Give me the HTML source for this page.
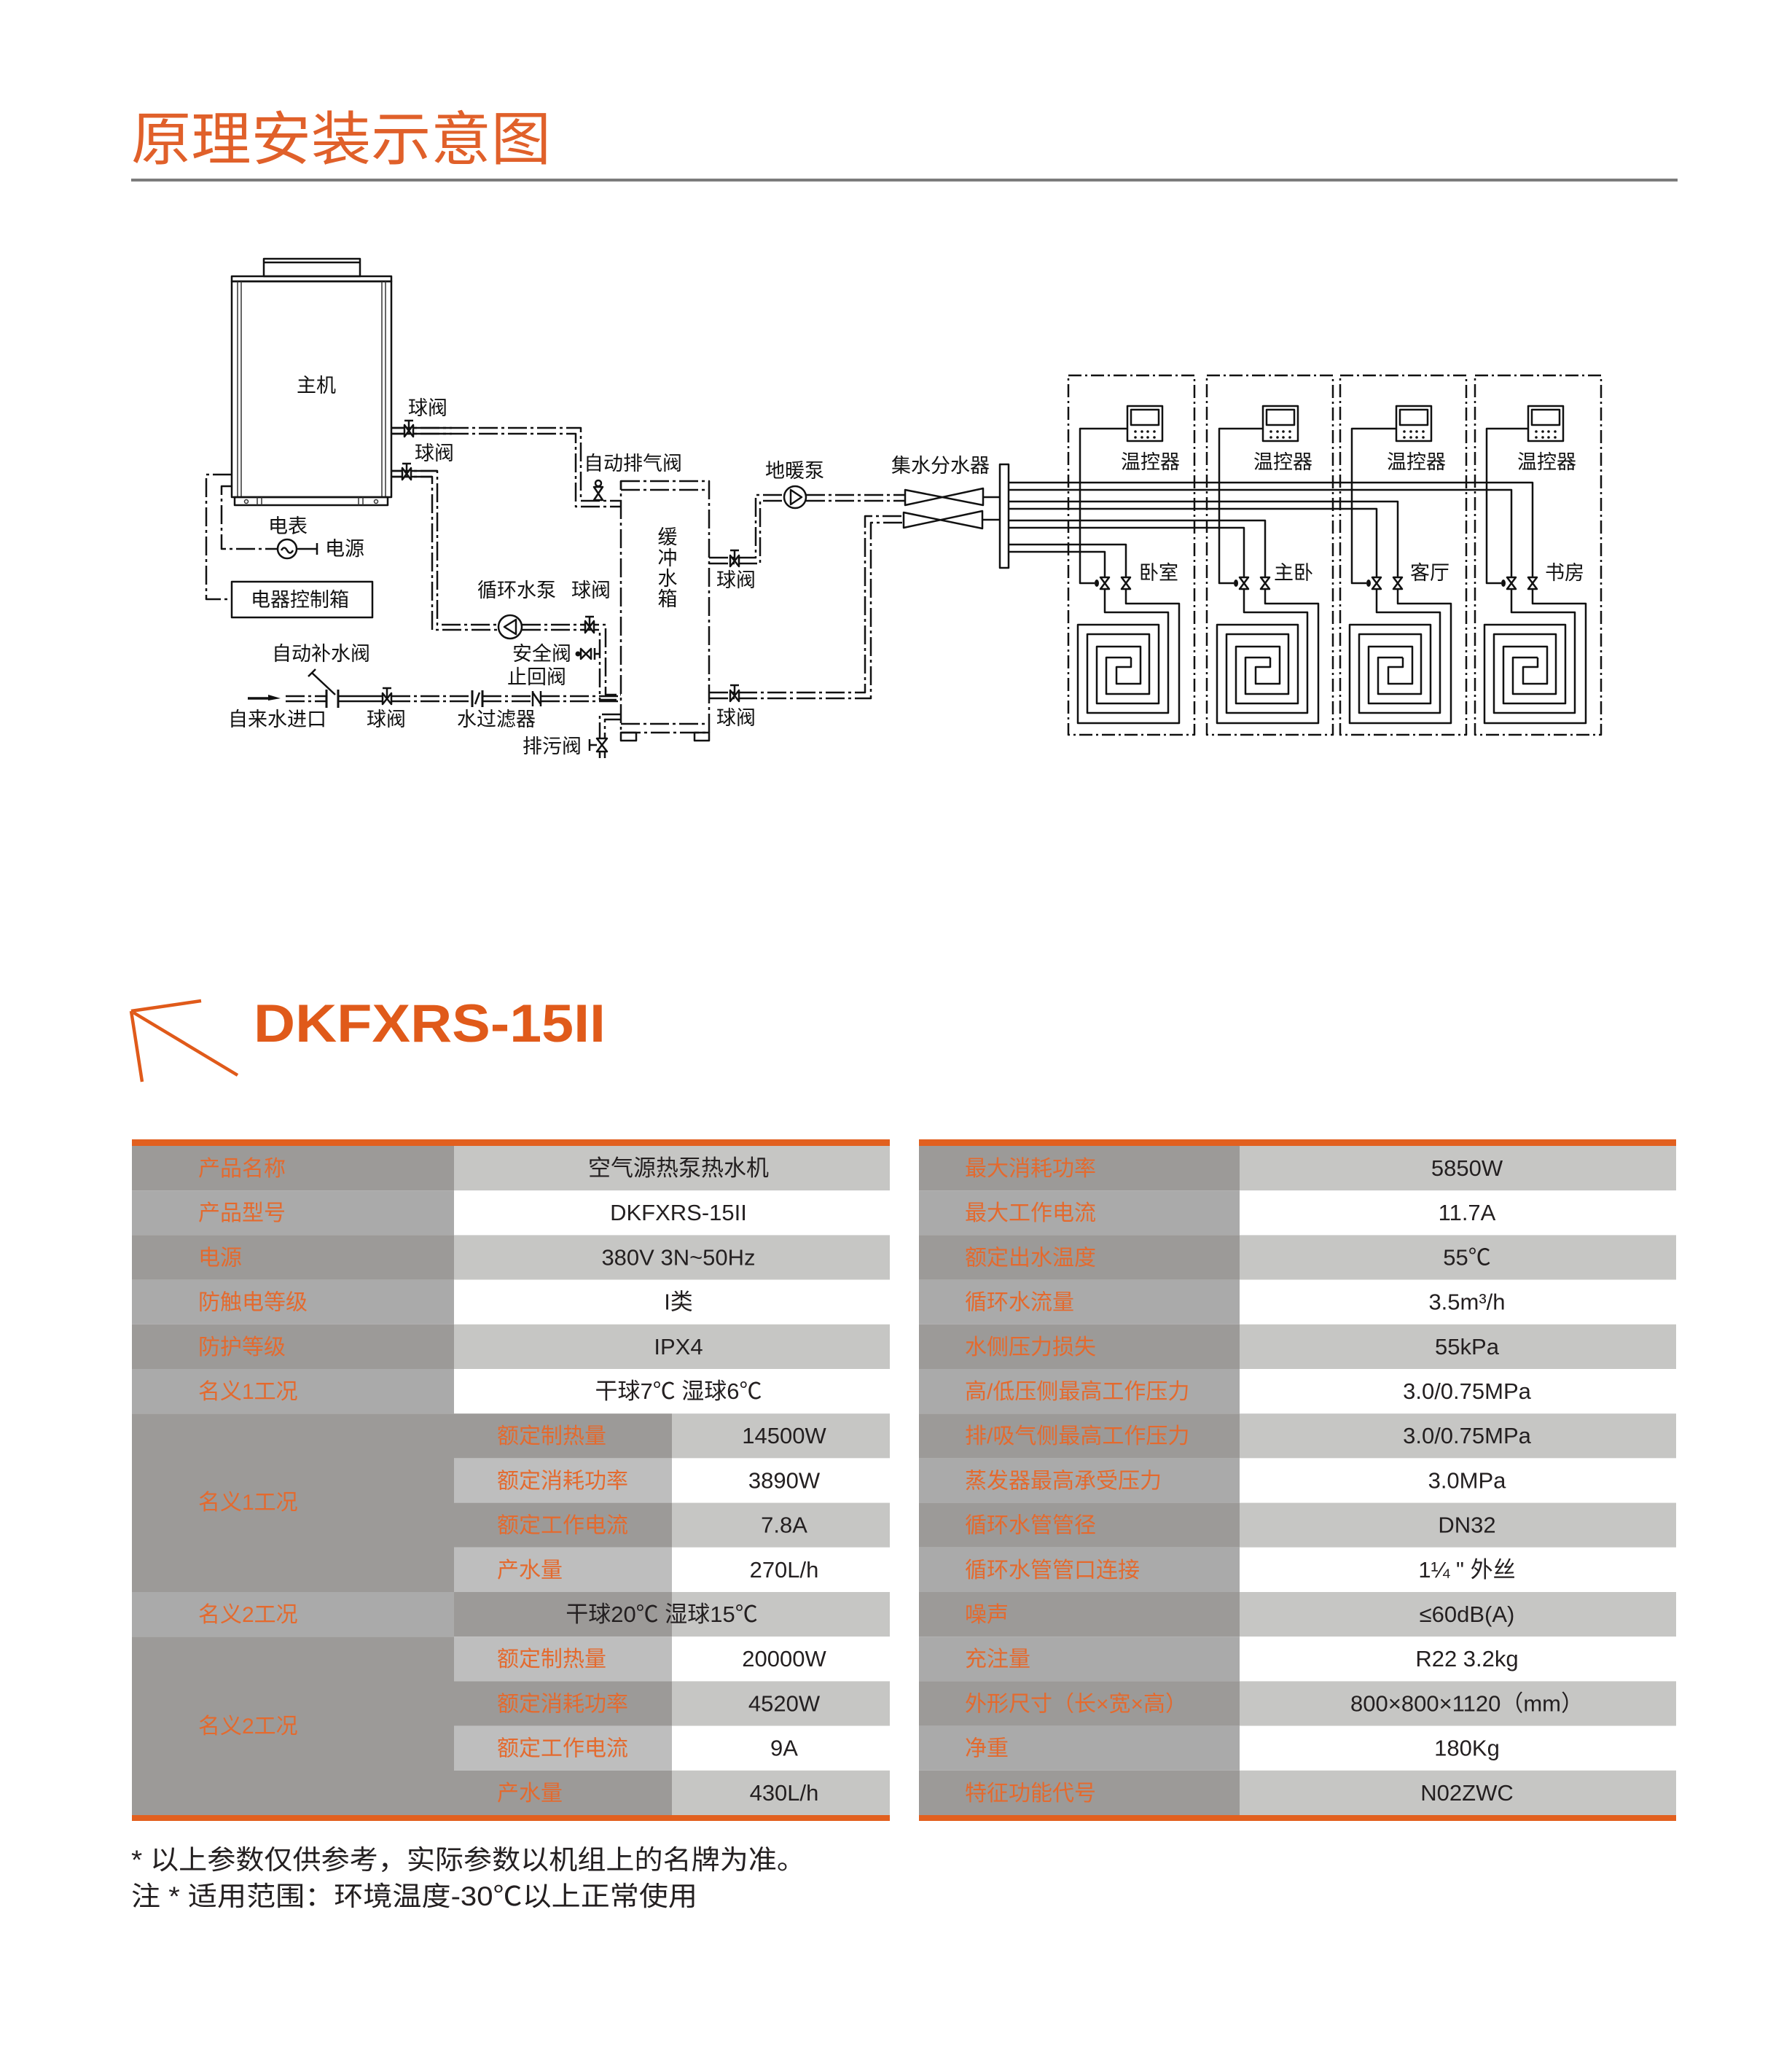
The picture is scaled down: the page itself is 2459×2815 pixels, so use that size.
<!DOCTYPE html>
<html><head><meta charset="utf-8"><title>原理安装示意图</title>
<style>
html,body{margin:0;padding:0;background:#fff;}
svg{display:block;}
</style></head>
<body>
<svg width="2459" height="2815" viewBox="0 0 2459 2815" xmlns="http://www.w3.org/2000/svg">
<style>
.s{stroke:#111;stroke-width:2.5;fill:none;stroke-linejoin:round}
.f{stroke:#111;stroke-width:2.5;fill:#fff;stroke-linejoin:round}
.d{stroke-dasharray:26 5 4 5}
.rd{stroke-dasharray:18 5 3 5}
.t{font-family:"Liberation Sans","Noto Sans CJK SC",sans-serif;font-size:27px;fill:#111}
.lab{font-family:"Liberation Sans","Noto Sans CJK SC",sans-serif;font-size:30px;fill:#e46a2e}
.val{font-family:"Liberation Sans","Noto Sans CJK SC",sans-serif;font-size:31px;fill:#231f20;text-anchor:middle}
</style>
<rect width="2459" height="2815" fill="#fff"/>

<!-- Title -->
<text x="180" y="219" font-family="Liberation Sans, Noto Sans CJK SC, sans-serif" font-size="80" fill="#e0602a" textLength="576" lengthAdjust="spacingAndGlyphs">原理安装示意图</text>
<rect x="180" y="245" width="2122" height="4" fill="#7c7c7c"/>

<!-- ============ DIAGRAM ============ -->
<!-- Main unit -->
<rect class="s" x="362" y="355" width="132" height="24"/>
<line class="s" x1="362" y1="360" x2="494" y2="360" stroke-width="1.5"/>
<rect class="s" x="318" y="379" width="219" height="7"/>
<rect class="s" x="318" y="386" width="219" height="296"/>
<g stroke="#333" stroke-width="1.5">
<line x1="326" y1="386" x2="326" y2="682"/><line x1="331" y1="386" x2="331" y2="682"/>
<line x1="524" y1="386" x2="524" y2="682"/><line x1="529" y1="386" x2="529" y2="682"/>
</g>
<rect class="s" x="322" y="682" width="210" height="11"/>
<g stroke="#333" stroke-width="1.5" fill="none">
<line x1="353" y1="682" x2="353" y2="693"/><line x1="359" y1="682" x2="359" y2="693"/>
<line x1="492" y1="682" x2="492" y2="693"/><line x1="498" y1="682" x2="498" y2="693"/>
<circle cx="338" cy="688" r="2.5"/><circle cx="516" cy="688" r="2.5"/>
</g>
<text class="t" x="407" y="538" font-size="26">主机</text>

<!-- Upper supply pipe from unit to tank -->
<path class="s d" d="M537,587 H797 V687 H853"/>
<path class="s d" d="M537,595 H790 V695 H853"/>
<path class="s" d="M537,587 H620 M537,595 H620"/>
<path class="f" d="M555,583 V599 L567,583 V599 Z"/>
<path class="s" d="M561,591 V577 M555,577 H567"/>
<text class="t" x="560" y="569">球阀</text>
<path class="f" d="M815,668 H827 L815,686 H827 Z"/>
<circle class="f" cx="821" cy="663" r="4"/>
<text class="t" x="801" y="645">自动排气阀</text>

<!-- Lower return pipe from unit to pump -->
<path class="s d" d="M537,646 H600 V857 H684"/>
<path class="s d" d="M537,654 H593 V864 H684"/>
<path class="s" d="M537,646 H600 M537,654 H593"/>
<path class="f" d="M552,642 V658 L564,642 V658 Z"/>
<path class="s" d="M558,650 V636 M552,636 H564"/>
<text class="t" x="569" y="631">球阀</text>

<!-- Circulation pump -->
<circle class="f" cx="700" cy="860" r="16"/>
<path class="s" d="M708,850 V870 L692,860 Z"/>
<path class="s d" d="M716,857 H831 V953 H852"/>
<path class="s d" d="M716,864 H823 V960 H852"/>
<path class="f" d="M803,852 V868 L815,852 V868 Z"/>
<path class="s" d="M809,860 V846 M803,846 H815"/>
<text class="t" x="655" y="819">循环水泵</text>
<text class="t" x="784" y="819">球阀</text>

<!-- Safety valve -->
<circle cx="793" cy="897" r="3.5" fill="#111"/>
<path class="f" d="M797,890 V904 L811,890 V904 Z"/>
<path class="s" d="M816,889 V905 M816,897 H823" stroke-width="3"/>
<text class="t" x="703" y="906">安全阀</text>
<text class="t" x="696" y="938">止回阀</text>

<!-- Water inlet line -->
<path d="M340,958 H372" stroke="#111" stroke-width="3.5"/>
<path d="M368,953 L385,958 L368,961 Z" fill="#111"/>
<path class="s d" d="M392,955 H448 M392,962 H448"/>
<path d="M448,946 V971 M464,946 V971" stroke="#111" stroke-width="3"/>
<path class="s" d="M464,955 H525 M464,962 H525"/>
<path class="f" d="M525,951 V966 L537,951 V966 Z"/>
<path class="s" d="M531,958 V944 M525,944 H537"/>
<path class="s d" d="M537,955 H648 M537,962 H648"/>
<path d="M648,947 V970 M662,947 V970" stroke="#111" stroke-width="3"/>
<path class="s" d="M652,966 L658,950" stroke-width="2"/>
<path class="s d" d="M662,955 H731 M662,962 H731"/>
<path class="s" d="M731,948 V969 M731,950 L742,966 M742,948 V969" stroke-width="2.5"/>
<path class="s d" d="M742,955 H852 M742,962 H852"/>
<path class="s" d="M428,923 L460,953 M423,928 L433,918"/>
<text class="t" x="373" y="906">自动补水阀</text>
<text class="t" x="313" y="996">自来水进口</text>
<text class="t" x="503" y="996">球阀</text>
<text class="t" x="627" y="996">水过滤器</text>

<!-- Drain -->
<path class="s d" d="M852,980 H823 V1012"/>
<path class="s d" d="M852,987 H830 V1012"/>
<path class="f" d="M819,1013 H833 L819,1031 H833 Z"/>
<path class="s" d="M809,1014 V1030 M809,1022 H819 M823,1031 V1040 M830,1031 V1040"/>
<text class="t" x="717" y="1033">排污阀</text>

<!-- Electrical -->
<path class="s d" d="M318,651 H283 V822 H318"/>
<path class="s d" d="M318,667 H304 V753 H381"/>
<circle class="f" cx="394" cy="753" r="13"/>
<path class="s" d="M386,755 q4,-7 8,0 t8,0" stroke-width="2"/>
<path class="s" d="M407,753 H435 M435,745 V761" stroke-width="2.5"/>
<text class="t" x="368" y="731">电表</text>
<text class="t" x="446" y="762">电源</text>
<rect class="s" x="318" y="798" width="193" height="49"/>
<text class="t" x="344" y="832">电器控制箱</text>

<!-- Buffer tank -->
<path class="s d" d="M852,660 H973 V1005 H852 Z"/>
<path class="s d" d="M852,672 H973 M852,993 H973"/>
<path class="s" d="M852,660 V672"/>
<rect class="s" x="852" y="1005" width="21" height="11"/>
<rect class="s" x="953" y="1005" width="20" height="11"/>
<text class="t" x="916" y="746" text-anchor="middle" font-size="26">缓</text>
<text class="t" x="916" y="775" text-anchor="middle" font-size="26">冲</text>
<text class="t" x="916" y="803" text-anchor="middle" font-size="26">水</text>
<text class="t" x="916" y="831" text-anchor="middle" font-size="26">箱</text>

<!-- Tank right outlets -->
<path class="s d" d="M973,765 H1037 V679 H1076"/>
<path class="s d" d="M973,773 H1043 V687 H1076"/>
<path class="f" d="M1002,762 V777 L1014,762 V777 Z"/>
<path class="s" d="M1008,769 V755 M1002,755 H1014"/>
<text class="t" x="983" y="805">球阀</text>
<circle class="f" cx="1091" cy="682" r="15"/>
<path class="s" d="M1085,672 V692 L1100,682 Z"/>
<text class="t" x="1050" y="655">地暖泵</text>
<path class="s d" d="M1106,679 H1242 M1106,687 H1242"/>

<path class="s d" d="M973,950 H1187 V708 H1240"/>
<path class="s d" d="M973,958 H1195 V717 H1240"/>
<path class="f" d="M1002,947 V962 L1014,947 V962 Z"/>
<path class="s" d="M1008,954 V940 M1002,940 H1014"/>
<text class="t" x="983" y="994">球阀</text>

<!-- Bowties & manifold -->
<path class="f" d="M1242,672 L1349,693 V670 L1242,693 Z"/>
<path class="f" d="M1240,703 L1348,725 V701 L1240,724 Z"/>
<path class="s" d="M1349,682 H1372 M1348,713 H1372"/>
<rect class="f" x="1372" y="637" width="12" height="142"/>
<text class="t" x="1223" y="648">集水分水器</text>

<!-- Rooms: boxes -->
<rect class="s rd" x="1466" y="515" width="173" height="493"/>
<rect class="s rd" x="1656" y="515" width="173" height="493"/>
<rect class="s rd" x="1839" y="515" width="173" height="493"/>
<rect class="s rd" x="2024" y="515" width="173" height="493"/>

<!-- supply lines -->
<path class="s" d="M1384,747 H1545 V792 M1384,757 H1516 V792"/>
<path class="s" d="M1384,714 H1736 V792 M1384,724 H1707 V792"/>
<path class="s" d="M1384,688 H1918 V792 M1384,698 H1889 V792"/>
<path class="s" d="M1384,662 H2103 V792 M1384,672 H2074 V792"/>

<!-- Room 1 -->
<g>
<rect class="s" x="1547" y="557" width="48" height="48"/>
<rect class="s" x="1552" y="562" width="38" height="21" stroke-width="2"/>
<g fill="#111"><circle cx="1558" cy="592" r="1.8"/><circle cx="1567" cy="592" r="1.8"/><circle cx="1575" cy="592" r="1.8"/><circle cx="1584" cy="592" r="1.8"/><circle cx="1558" cy="600" r="1.8"/><circle cx="1567" cy="600" r="1.8"/><circle cx="1575" cy="600" r="1.8"/><circle cx="1584" cy="600" r="1.8"/></g>
<path class="s" d="M1547,588 H1482 V800 H1502"/>
<ellipse cx="1505" cy="800" rx="3" ry="5" fill="#111"/>
<path class="f" d="M1510,792 H1522 L1510,808 H1522 Z"/>
<path class="f" d="M1539,792 H1551 L1539,808 H1551 Z"/>
<path class="s" d="M1545,808 V828 H1618 V992 H1479 V857 H1590 V965 H1505 V887 H1565 V938 H1532 V915 H1552 V902"/>
<path class="s" d="M1516,808 V840 H1603 V978 H1492 V870 H1577 V952 H1518 V902 H1552"/>
<text class="t" x="1538" y="643">温控器</text>
<text class="t" x="1563" y="795">卧室</text>
</g>
<!-- Room 2 -->
<g>
<rect class="s" x="1733" y="557" width="48" height="48"/>
<rect class="s" x="1738" y="562" width="38" height="21" stroke-width="2"/>
<g fill="#111"><circle cx="1744" cy="592" r="1.8"/><circle cx="1753" cy="592" r="1.8"/><circle cx="1761" cy="592" r="1.8"/><circle cx="1770" cy="592" r="1.8"/><circle cx="1744" cy="600" r="1.8"/><circle cx="1753" cy="600" r="1.8"/><circle cx="1761" cy="600" r="1.8"/><circle cx="1770" cy="600" r="1.8"/></g>
<path class="s" d="M1733,588 H1673 V800 H1693"/>
<ellipse cx="1696" cy="800" rx="3" ry="5" fill="#111"/>
<path class="f" d="M1701,792 H1713 L1701,808 H1713 Z"/>
<path class="f" d="M1730,792 H1742 L1730,808 H1742 Z"/>
<path class="s" d="M1736,808 V828 H1809 V992 H1670 V857 H1781 V965 H1696 V887 H1756 V938 H1723 V915 H1743 V902"/>
<path class="s" d="M1707,808 V840 H1794 V978 H1683 V870 H1768 V952 H1709 V902 H1743"/>
<text class="t" x="1720" y="643">温控器</text>
<text class="t" x="1748" y="795">主卧</text>
</g>
<!-- Room 3 -->
<g>
<rect class="s" x="1916" y="557" width="48" height="48"/>
<rect class="s" x="1921" y="562" width="38" height="21" stroke-width="2"/>
<g fill="#111"><circle cx="1927" cy="592" r="1.8"/><circle cx="1936" cy="592" r="1.8"/><circle cx="1944" cy="592" r="1.8"/><circle cx="1953" cy="592" r="1.8"/><circle cx="1927" cy="600" r="1.8"/><circle cx="1936" cy="600" r="1.8"/><circle cx="1944" cy="600" r="1.8"/><circle cx="1953" cy="600" r="1.8"/></g>
<path class="s" d="M1916,588 H1855 V800 H1875"/>
<ellipse cx="1878" cy="800" rx="3" ry="5" fill="#111"/>
<path class="f" d="M1883,792 H1895 L1883,808 H1895 Z"/>
<path class="f" d="M1912,792 H1924 L1912,808 H1924 Z"/>
<path class="s" d="M1918,808 V828 H1991 V992 H1852 V857 H1963 V965 H1878 V887 H1938 V938 H1905 V915 H1925 V902"/>
<path class="s" d="M1889,808 V840 H1976 V978 H1865 V870 H1950 V952 H1891 V902 H1925"/>
<text class="t" x="1903" y="643">温控器</text>
<text class="t" x="1935" y="795">客厅</text>
</g>
<!-- Room 4 -->
<g>
<rect class="s" x="2097" y="557" width="48" height="48"/>
<rect class="s" x="2102" y="562" width="38" height="21" stroke-width="2"/>
<g fill="#111"><circle cx="2108" cy="592" r="1.8"/><circle cx="2117" cy="592" r="1.8"/><circle cx="2125" cy="592" r="1.8"/><circle cx="2134" cy="592" r="1.8"/><circle cx="2108" cy="600" r="1.8"/><circle cx="2117" cy="600" r="1.8"/><circle cx="2125" cy="600" r="1.8"/><circle cx="2134" cy="600" r="1.8"/></g>
<path class="s" d="M2097,588 H2040 V800 H2060"/>
<ellipse cx="2063" cy="800" rx="3" ry="5" fill="#111"/>
<path class="f" d="M2068,792 H2080 L2068,808 H2080 Z"/>
<path class="f" d="M2097,792 H2109 L2097,808 H2109 Z"/>
<path class="s" d="M2103,808 V828 H2176 V992 H2037 V857 H2148 V965 H2063 V887 H2123 V938 H2090 V915 H2110 V902"/>
<path class="s" d="M2074,808 V840 H2161 V978 H2050 V870 H2135 V952 H2076 V902 H2110"/>
<text class="t" x="2082" y="643">温控器</text>
<text class="t" x="2120" y="795">书房</text>
</g>

<!-- ============ MODEL HEADER ============ -->
<g stroke="#e05a1a" stroke-width="4.5" stroke-linecap="butt">
<line x1="180" y1="1387" x2="276" y2="1373"/>
<line x1="180" y1="1387" x2="195" y2="1484"/>
<line x1="183" y1="1389" x2="326" y2="1475"/>
</g>
<text x="348" y="1429" font-family="Liberation Sans, sans-serif" font-weight="bold" font-size="73" fill="#e05a1a" textLength="483" lengthAdjust="spacingAndGlyphs">DKFXRS-15II</text>

<!-- ============ LEFT TABLE ============ -->
<rect x="181" y="1563" width="1040" height="9" fill="#e2601f"/>
<rect x="181" y="1572" width="442" height="61.2" fill="#9c9a98"/><rect x="623" y="1572" width="598" height="61.2" fill="#c6c6c4"/>
<rect x="181" y="1633.2" width="442" height="61.2" fill="#aaaaaa"/><rect x="623" y="1633.2" width="598" height="61.2" fill="#ffffff"/>
<rect x="181" y="1694.4" width="442" height="61.2" fill="#9c9a98"/><rect x="623" y="1694.4" width="598" height="61.2" fill="#c6c6c4"/>
<rect x="181" y="1755.6" width="442" height="61.2" fill="#aaaaaa"/><rect x="623" y="1755.6" width="598" height="61.2" fill="#ffffff"/>
<rect x="181" y="1816.8" width="442" height="61.2" fill="#9c9a98"/><rect x="623" y="1816.8" width="598" height="61.2" fill="#c6c6c4"/>
<rect x="181" y="1878" width="442" height="61.2" fill="#aaaaaa"/><rect x="623" y="1878" width="598" height="61.2" fill="#ffffff"/>
<rect x="181" y="1939.2" width="442" height="244.8" fill="#9c9a98"/>
<rect x="623" y="1939.2" width="299" height="61.2" fill="#9c9a98"/><rect x="922" y="1939.2" width="299" height="61.2" fill="#c6c6c4"/>
<rect x="623" y="2000.4" width="299" height="61.2" fill="#bebebe"/><rect x="922" y="2000.4" width="299" height="61.2" fill="#ffffff"/>
<rect x="623" y="2061.6" width="299" height="61.2" fill="#9c9a98"/><rect x="922" y="2061.6" width="299" height="61.2" fill="#c6c6c4"/>
<rect x="623" y="2122.8" width="299" height="61.2" fill="#bebebe"/><rect x="922" y="2122.8" width="299" height="61.2" fill="#ffffff"/>
<rect x="181" y="2184" width="442" height="61.2" fill="#aaaaaa"/>
<rect x="623" y="2184" width="299" height="61.2" fill="#9c9a98"/><rect x="922" y="2184" width="299" height="61.2" fill="#c6c6c4"/>
<rect x="181" y="2245.2" width="442" height="244.8" fill="#9c9a98"/>
<rect x="623" y="2245.2" width="299" height="61.2" fill="#bebebe"/><rect x="922" y="2245.2" width="299" height="61.2" fill="#ffffff"/>
<rect x="623" y="2306.4" width="299" height="61.2" fill="#9c9a98"/><rect x="922" y="2306.4" width="299" height="61.2" fill="#c6c6c4"/>
<rect x="623" y="2367.6" width="299" height="61.2" fill="#bebebe"/><rect x="922" y="2367.6" width="299" height="61.2" fill="#ffffff"/>
<rect x="623" y="2428.8" width="299" height="61.2" fill="#9c9a98"/><rect x="922" y="2428.8" width="299" height="61.2" fill="#c6c6c4"/>
<rect x="181" y="2490" width="1040" height="8" fill="#e2601f"/>

<text class="lab" x="272" y="1613">产品名称</text><text class="val" x="931" y="1613">空气源热泵热水机</text>
<text class="lab" x="272" y="1674.2">产品型号</text><text class="val" x="931" y="1674.2">DKFXRS-15II</text>
<text class="lab" x="272" y="1735.4">电源</text><text class="val" x="931" y="1735.4">380V 3N~50Hz</text>
<text class="lab" x="272" y="1796.6">防触电等级</text><text class="val" x="931" y="1796.6">I类</text>
<text class="lab" x="272" y="1857.8">防护等级</text><text class="val" x="931" y="1857.8">IPX4</text>
<text class="lab" x="272" y="1919">名义1工况</text><text class="val" x="931" y="1919">干球7℃ 湿球6℃</text>
<text class="lab" x="272" y="2071">名义1工况</text>
<text class="lab" x="682" y="1980.2">额定制热量</text><text class="val" x="1076" y="1980.2">14500W</text>
<text class="lab" x="682" y="2041.4">额定消耗功率</text><text class="val" x="1076" y="2041.4">3890W</text>
<text class="lab" x="682" y="2102.6">额定工作电流</text><text class="val" x="1076" y="2102.6">7.8A</text>
<text class="lab" x="682" y="2163.8">产水量</text><text class="val" x="1076" y="2163.8">270L/h</text>
<text class="lab" x="272" y="2225">名义2工况</text><text class="val" x="908" y="2225">干球20℃ 湿球15℃</text>
<text class="lab" x="272" y="2378">名义2工况</text>
<text class="lab" x="682" y="2286.2">额定制热量</text><text class="val" x="1076" y="2286.2">20000W</text>
<text class="lab" x="682" y="2347.4">额定消耗功率</text><text class="val" x="1076" y="2347.4">4520W</text>
<text class="lab" x="682" y="2408.6">额定工作电流</text><text class="val" x="1076" y="2408.6">9A</text>
<text class="lab" x="682" y="2469.8">产水量</text><text class="val" x="1076" y="2469.8">430L/h</text>

<!-- ============ RIGHT TABLE ============ -->
<rect x="1261" y="1563" width="1039" height="9" fill="#e2601f"/>
<rect x="1261" y="1572" width="440" height="61.2" fill="#9c9a98"/><rect x="1701" y="1572" width="599" height="61.2" fill="#c6c6c4"/>
<rect x="1261" y="1633.2" width="440" height="61.2" fill="#aaaaaa"/><rect x="1701" y="1633.2" width="599" height="61.2" fill="#ffffff"/>
<rect x="1261" y="1694.4" width="440" height="61.2" fill="#9c9a98"/><rect x="1701" y="1694.4" width="599" height="61.2" fill="#c6c6c4"/>
<rect x="1261" y="1755.6" width="440" height="61.2" fill="#aaaaaa"/><rect x="1701" y="1755.6" width="599" height="61.2" fill="#ffffff"/>
<rect x="1261" y="1816.8" width="440" height="61.2" fill="#9c9a98"/><rect x="1701" y="1816.8" width="599" height="61.2" fill="#c6c6c4"/>
<rect x="1261" y="1878" width="440" height="61.2" fill="#aaaaaa"/><rect x="1701" y="1878" width="599" height="61.2" fill="#ffffff"/>
<rect x="1261" y="1939.2" width="440" height="61.2" fill="#9c9a98"/><rect x="1701" y="1939.2" width="599" height="61.2" fill="#c6c6c4"/>
<rect x="1261" y="2000.4" width="440" height="61.2" fill="#aaaaaa"/><rect x="1701" y="2000.4" width="599" height="61.2" fill="#ffffff"/>
<rect x="1261" y="2061.6" width="440" height="61.2" fill="#9c9a98"/><rect x="1701" y="2061.6" width="599" height="61.2" fill="#c6c6c4"/>
<rect x="1261" y="2122.8" width="440" height="61.2" fill="#aaaaaa"/><rect x="1701" y="2122.8" width="599" height="61.2" fill="#ffffff"/>
<rect x="1261" y="2184" width="440" height="61.2" fill="#9c9a98"/><rect x="1701" y="2184" width="599" height="61.2" fill="#c6c6c4"/>
<rect x="1261" y="2245.2" width="440" height="61.2" fill="#aaaaaa"/><rect x="1701" y="2245.2" width="599" height="61.2" fill="#ffffff"/>
<rect x="1261" y="2306.4" width="440" height="61.2" fill="#9c9a98"/><rect x="1701" y="2306.4" width="599" height="61.2" fill="#c6c6c4"/>
<rect x="1261" y="2367.6" width="440" height="61.2" fill="#aaaaaa"/><rect x="1701" y="2367.6" width="599" height="61.2" fill="#ffffff"/>
<rect x="1261" y="2428.8" width="440" height="61.2" fill="#9c9a98"/><rect x="1701" y="2428.8" width="599" height="61.2" fill="#c6c6c4"/>
<rect x="1261" y="2490" width="1039" height="8" fill="#e2601f"/>

<text class="lab" x="1324" y="1613">最大消耗功率</text><text class="val" x="2013" y="1613">5850W</text>
<text class="lab" x="1324" y="1674.2">最大工作电流</text><text class="val" x="2013" y="1674.2">11.7A</text>
<text class="lab" x="1324" y="1735.4">额定出水温度</text><text class="val" x="2013" y="1735.4">55℃</text>
<text class="lab" x="1324" y="1796.6">循环水流量</text><text class="val" x="2013" y="1796.6">3.5m³/h</text>
<text class="lab" x="1324" y="1857.8">水侧压力损失</text><text class="val" x="2013" y="1857.8">55kPa</text>
<text class="lab" x="1324" y="1919">高/低压侧最高工作压力</text><text class="val" x="2013" y="1919">3.0/0.75MPa</text>
<text class="lab" x="1324" y="1980.2">排/吸气侧最高工作压力</text><text class="val" x="2013" y="1980.2">3.0/0.75MPa</text>
<text class="lab" x="1324" y="2041.4">蒸发器最高承受压力</text><text class="val" x="2013" y="2041.4">3.0MPa</text>
<text class="lab" x="1324" y="2102.6">循环水管管径</text><text class="val" x="2013" y="2102.6">DN32</text>
<text class="lab" x="1324" y="2163.8">循环水管管口连接</text><text class="val" x="2013" y="2163.8">1¼ " 外丝</text>
<text class="lab" x="1324" y="2225">噪声</text><text class="val" x="2013" y="2225">≤60dB(A)</text>
<text class="lab" x="1324" y="2286.2">充注量</text><text class="val" x="2013" y="2286.2">R22 3.2kg</text>
<text class="lab" x="1324" y="2347.4">外形尺寸（长×宽×高）</text><text class="val" x="2013" y="2347.4">800×800×1120（mm）</text>
<text class="lab" x="1324" y="2408.6">净重</text><text class="val" x="2013" y="2408.6">180Kg</text>
<text class="lab" x="1324" y="2469.8">特征功能代号</text><text class="val" x="2013" y="2469.8">N02ZWC</text>

<!-- Footer -->
<text x="180" y="2564" font-family="Liberation Sans, Noto Sans CJK SC, sans-serif" font-size="37" fill="#231f20" textLength="925" lengthAdjust="spacingAndGlyphs">* 以上参数仅供参考，实际参数以机组上的名牌为准。</text>
<text x="180" y="2614" font-family="Liberation Sans, Noto Sans CJK SC, sans-serif" font-size="37" fill="#231f20" textLength="777" lengthAdjust="spacingAndGlyphs">注 * 适用范围：环境温度-30℃以上正常使用</text>
</svg>
</body></html>
